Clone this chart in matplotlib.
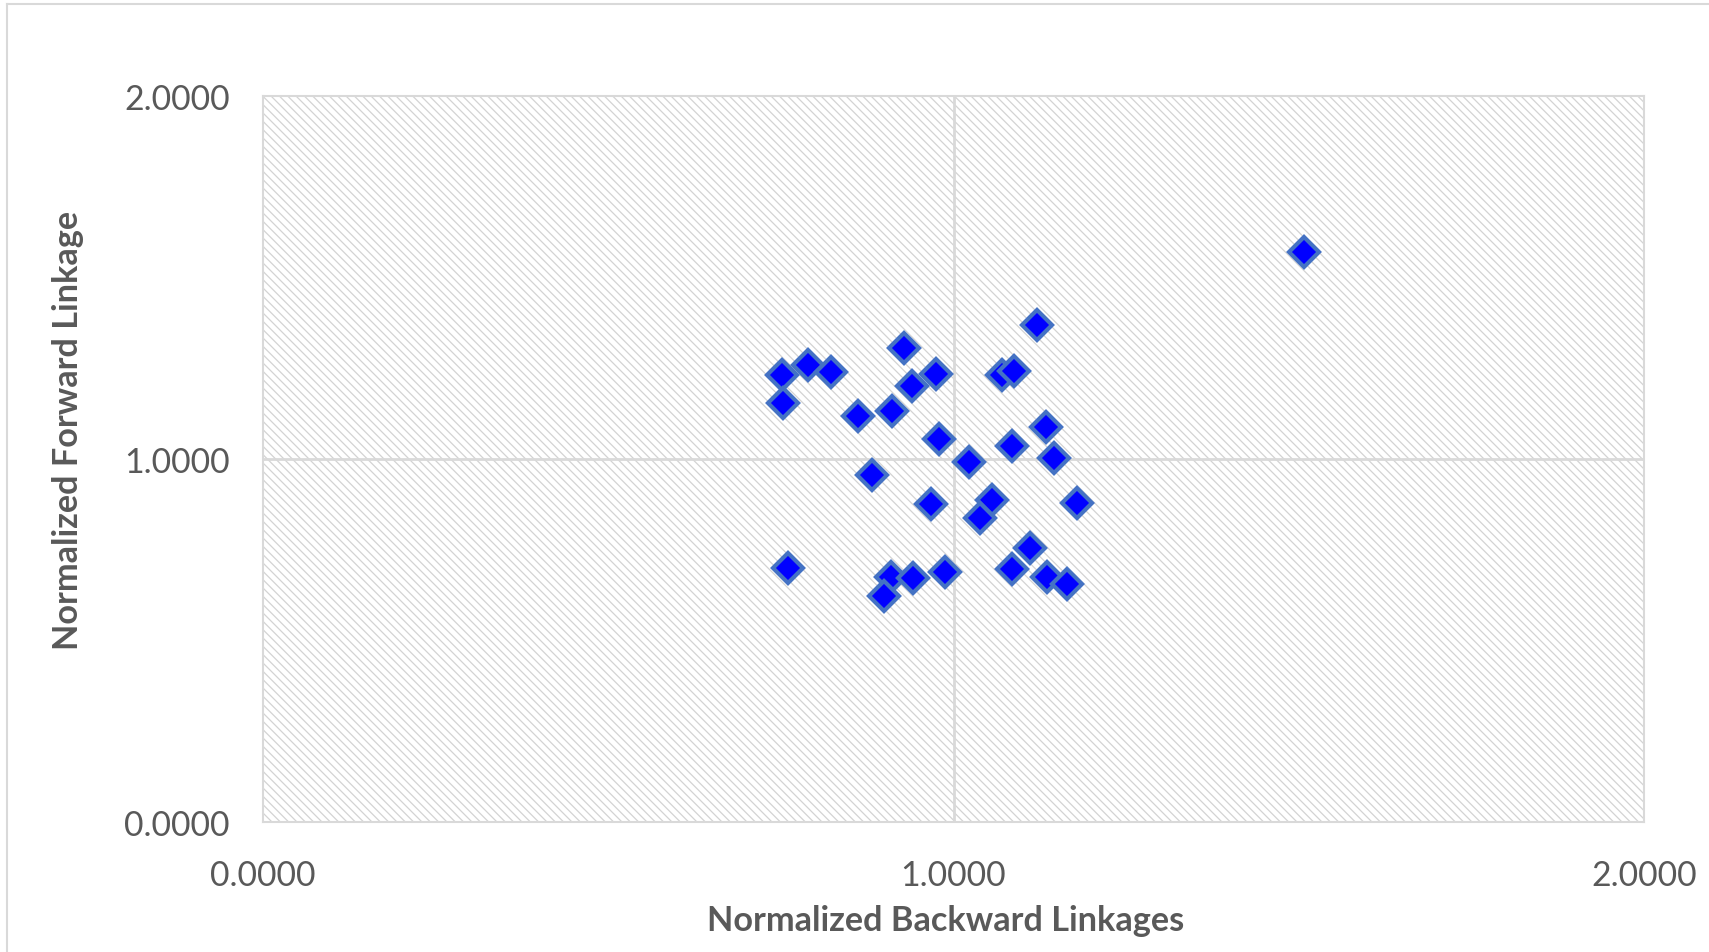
import numpy as np
import matplotlib.pyplot as plt
from matplotlib.patches import Rectangle
from matplotlib.lines import Line2D

# normalized backward (x) and forward (y) linkages
backward = [1.507, 1.121, 0.928, 0.751, 0.789, 0.823, 0.975, 0.940,
            1.070, 1.087, 0.753, 0.861, 0.911, 0.979, 1.134, 1.085,
            1.145, 1.023, 0.882, 0.967, 1.056, 1.039, 1.179, 1.111,
            0.760, 1.084, 0.987, 0.909, 0.941, 1.136, 1.164, 0.899]
forward = [1.569, 1.369, 1.305, 1.232, 1.260, 1.239, 1.234, 1.202,
           1.231, 1.243, 1.154, 1.119, 1.133, 1.055, 1.088, 1.035,
           1.002, 0.992, 0.956, 0.875, 0.888, 0.838, 0.879, 0.754,
           0.700, 0.697, 0.688, 0.674, 0.671, 0.674, 0.655, 0.623]
ticks = [0.0, 1.0, 2.0]

W, H = 1709, 953
plt.rcParams['font.family'] = ['Lato', 'DejaVu Sans']
plt.rcParams['hatch.linewidth'] = 0.9

fig = plt.figure(figsize=(W / 100, H / 100), dpi=100)
ax = fig.add_axes([263 / W, (H - 823) / H, 1381 / W, 726 / H])

# hatched plot area
ax.add_patch(Rectangle((0, 0), 1, 1, transform=ax.transAxes, facecolor='white',
                       edgecolor='#D3D3D3', hatch='\\\\\\\\', lw=0, zorder=0.1))
ax.set_axisbelow(True)
ax.axvline(1.0, color='#D9D9D9', lw=2, zorder=0.5)
ax.axhline(1.0, color='#D9D9D9', lw=2, zorder=0.5)

ax.plot(backward, forward, ls='none', marker='D', ms=15, mfc='#0000FF',
        mec='#4472C4', mew=3, zorder=3, clip_on=False)

ax.set_xlim(0, 2)
ax.set_ylim(0, 2)
ax.set_xticks(ticks)
ax.set_yticks(ticks)
ax.set_xticklabels(['%.4f' % t for t in ticks])
ax.set_yticklabels(['%.4f' % t for t in ticks])
ax.tick_params(length=0, labelsize=24.3, labelcolor='#595959')
ax.tick_params(axis='x', pad=27)
ax.tick_params(axis='y', pad=24)
for s in ax.spines.values():
  s.set_color('#D9D9D9')
  s.set_linewidth(1.5)

ax.set_xlabel('Normalized Backward Linkages', fontsize=24.7, fontweight='bold',
              color='#595959', va='center')
ax.set_ylabel('Normalized Forward Linkage', fontsize=24.7, fontweight='bold',
              color='#595959', va='center')
ax.xaxis.set_label_coords(0.494, -0.135)
ax.yaxis.set_label_coords(-0.1415, 0.541)

# chart area border
fig.add_artist(Line2D([7 / W, 1.0], [1 - 5 / H, 1 - 5 / H], color='#D9D9D9', lw=1.5))
fig.add_artist(Line2D([7 / W, 7 / W], [0, 1 - 5 / H], color='#D9D9D9', lw=1.5))

fig.savefig('out.png', dpi=100)
